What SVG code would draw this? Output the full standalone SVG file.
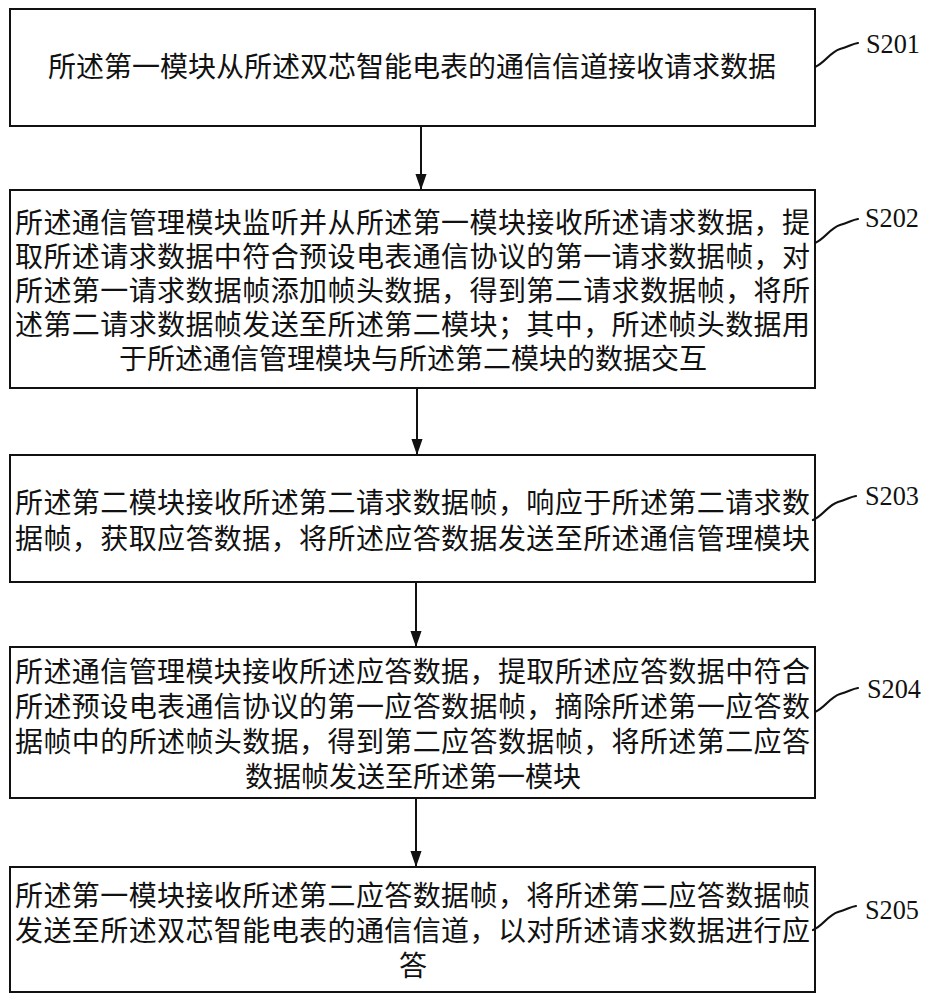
<svg xmlns="http://www.w3.org/2000/svg" width="932" height="1000" viewBox="0 0 932 1000">
<style>
.box{fill:#fff;stroke:#111;stroke-width:2}
.t{font-family:"Noto Sans CJK SC","Noto Sans CJK JP",sans-serif;font-size:28px;fill:#111}
.c{text-anchor:middle}
.lbl{font-family:"Liberation Serif",serif;font-size:28px;fill:#111}
.lead{fill:none;stroke:#111;stroke-width:2.2;stroke-linecap:round}
.conn{stroke:#111;stroke-width:2;fill:none}
</style>
<defs>
<marker id="ah" markerWidth="16" markerHeight="23" refX="8" refY="23" orient="auto-start-reverse" markerUnits="userSpaceOnUse" viewBox="0 0 16 23">
<path d="M0,0 L16,0 L8,23 Z" fill="#111" transform="rotate(0)"/>
</marker>
<marker id="ahd" markerWidth="16" markerHeight="23" refX="23" refY="8" orient="auto" markerUnits="userSpaceOnUse" viewBox="0 0 23 16">
<path d="M0,0 L23,8 L0,16 Z" fill="#111"/>
</marker>
<path id="leader" d="M0,0 C10,-4 15,-15 25,-18 S37,-23 43,-24"/>
</defs>
<rect width="932" height="1000" fill="#fff"/>

<g id="connectors">
<line class="conn" x1="421" y1="126" x2="421" y2="190" marker-end="url(#ahd)"/>
<line class="conn" x1="417" y1="388" x2="417" y2="455" marker-end="url(#ahd)"/>
<line class="conn" x1="416" y1="582" x2="416" y2="647" marker-end="url(#ahd)"/>
<line class="conn" x1="416" y1="798" x2="416" y2="867" marker-end="url(#ahd)"/>
</g>

<g id="S201">
<rect class="box" x="10" y="9" width="805" height="117"/>
<text class="t c" x="412" y="77">所述第一模块从所述双芯智能电表的通信信道接收请求数据</text>
<use href="#leader" class="lead" x="815" y="67"/>
<text class="lbl" x="866" y="53" textLength="54" lengthAdjust="spacingAndGlyphs">S201</text>
</g>

<g id="S202">
<rect class="box" x="10" y="190" width="805" height="198"/>
<text class="t" x="15" y="233" textLength="795" lengthAdjust="spacing">所述通信管理模块监听并从所述第一模块接收所述请求数据，提</text>
<text class="t" x="15" y="267" textLength="795" lengthAdjust="spacing">取所述请求数据中符合预设电表通信协议的第一请求数据帧，对</text>
<text class="t" x="15" y="301" textLength="795" lengthAdjust="spacing">所述第一请求数据帧添加帧头数据，得到第二请求数据帧，将所</text>
<text class="t" x="15" y="335" textLength="795" lengthAdjust="spacing">述第二请求数据帧发送至所述第二模块；其中，所述帧头数据用</text>
<text class="t c" x="413" y="369">于所述通信管理模块与所述第二模块的数据交互</text>
<use href="#leader" class="lead" x="815" y="243"/>
<text class="lbl" x="865" y="227" textLength="54" lengthAdjust="spacingAndGlyphs">S202</text>
</g>

<g id="S203">
<rect class="box" x="10" y="455" width="805" height="127"/>
<text class="t" x="15" y="513" textLength="795" lengthAdjust="spacing">所述第二模块接收所述第二请求数据帧，响应于所述第二请求数</text>
<text class="t" x="15" y="549" textLength="795" lengthAdjust="spacing">据帧，获取应答数据，将所述应答数据发送至所述通信管理模块</text>
<use href="#leader" class="lead" x="813" y="520"/>
<text class="lbl" x="865" y="505" textLength="54" lengthAdjust="spacingAndGlyphs">S203</text>
</g>

<g id="S204">
<rect class="box" x="10" y="647" width="805" height="151"/>
<text class="t" x="15" y="682" textLength="795" lengthAdjust="spacing">所述通信管理模块接收所述应答数据，提取所述应答数据中符合</text>
<text class="t" x="15" y="717" textLength="795" lengthAdjust="spacing">所述预设电表通信协议的第一应答数据帧，摘除所述第一应答数</text>
<text class="t" x="15" y="752" textLength="795" lengthAdjust="spacing">据帧中的所述帧头数据，得到第二应答数据帧，将所述第二应答</text>
<text class="t c" x="413" y="787">数据帧发送至所述第一模块</text>
<use href="#leader" class="lead" x="815" y="712"/>
<text class="lbl" x="867" y="698" textLength="54" lengthAdjust="spacingAndGlyphs">S204</text>
</g>

<g id="S205">
<rect class="box" x="10" y="867" width="805" height="125"/>
<text class="t" x="15" y="906" textLength="795" lengthAdjust="spacing">所述第一模块接收所述第二应答数据帧，将所述第二应答数据帧</text>
<text class="t" x="15" y="941" textLength="795" lengthAdjust="spacing">发送至所述双芯智能电表的通信信道，以对所述请求数据进行应</text>
<text class="t c" x="413" y="976">答</text>
<use href="#leader" class="lead" x="813" y="930"/>
<text class="lbl" x="865" y="919" textLength="54" lengthAdjust="spacingAndGlyphs">S205</text>
</g>
</svg>
